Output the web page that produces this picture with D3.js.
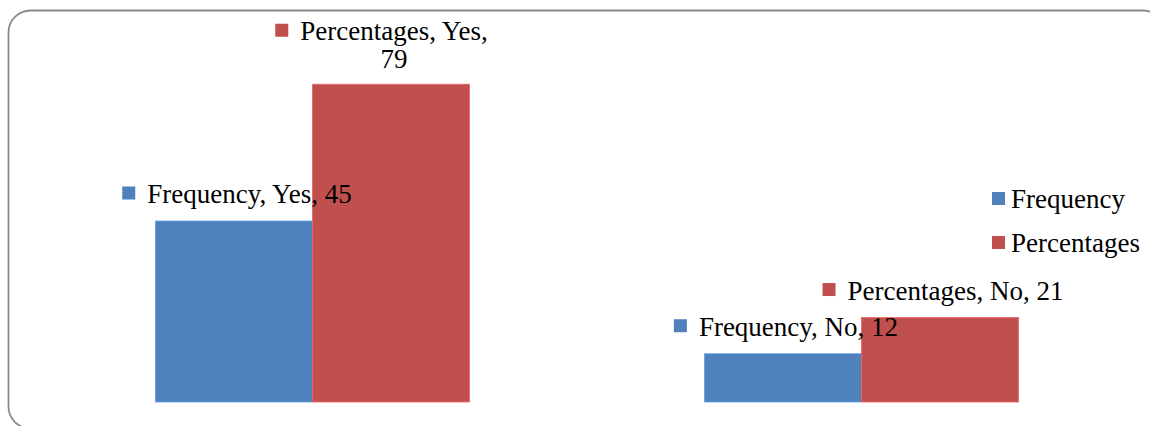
<!DOCTYPE html>
<html>
<head>
<meta charset="utf-8">
<script src="https://cdn.jsdelivr.net/npm/d3@7"></script>
<style>
  html, body { margin: 0; padding: 0; background: #fff; }
  svg { display: block; }
  text { font-family: "Liberation Serif", "Times New Roman", serif; fill: #000; }
</style>
</head>
<body>
<svg id="chart" width="1150" height="426"></svg>
<script>
// ---- data ----
const categories = ["Yes", "No"];
const seriesNames = ["Frequency", "Percentages"];
const frequencyValues = [45, 12];
const percentageValues = [79, 21];
const seriesColors = ["#4F81BD", "#C0504D"];

const W = 1150, H = 426;
const svg = d3.select("#chart");
const fontSize = 27;
const keySize = 13;
const keyGap = 12;

// frame
svg.append("rect")
  .attr("x", 8.5).attr("y", 10.5)
  .attr("width", 1156).attr("height", 418)
  .attr("rx", 22).attr("ry", 22)
  .attr("fill", "#fff")
  .attr("stroke", "#8a8a8a")
  .attr("stroke-width", 1.8);

const x0 = d3.scaleBand().domain(categories).range([38, 1136])
  .paddingInner(0.428).paddingOuter(0.214);
const x1 = d3.scaleBand().domain(seriesNames).range([0, x0.bandwidth()]);
const y = d3.scaleLinear().domain([0, 90]).range([402, 40]);

const rows = [];
categories.forEach((c, i) => {
  rows.push({ cat: c, series: seriesNames[0], value: frequencyValues[i], color: seriesColors[0] });
  rows.push({ cat: c, series: seriesNames[1], value: percentageValues[i], color: seriesColors[1] });
});

const g = svg.append("g");
g.selectAll("rect.bar").data(rows).enter().append("rect")
  .attr("class", "bar")
  .attr("x", d => x0(d.cat) + x1(d.series))
  .attr("y", d => y(d.value))
  .attr("width", x1.bandwidth())
  .attr("height", d => y(0) - y(d.value))
  .attr("fill", d => d.color)
  .attr("stroke", d => d3.color(d.color).brighter(0.6))
  .attr("stroke-width", 0.8);

// measure helper
const measurer = svg.append("text").attr("font-size", fontSize).attr("visibility", "hidden");
function textW(s) { measurer.text(s); return measurer.node().getComputedTextLength(); }

// data labels with legend keys
const labels = svg.append("g");
rows.forEach(d => {
  const cx = x0(d.cat) + x1(d.series) + x1.bandwidth() / 2;
  const top = y(d.value);
  const full = `${d.series}, ${d.cat}, ${d.value}`;
  const fw = textW(full);
  const lines = (top - 18 - fontSize < 50) ? [`${d.series}, ${d.cat},`, `${d.value}`] : [full];
  if (lines.length === 1) {
    const blockW = keySize + keyGap + fw;
    const left = cx + 3 - blockW / 2;
    const base = top - 18;
    labels.append("rect").attr("x", left).attr("y", base - 16.5)
      .attr("width", keySize).attr("height", keySize).attr("fill", d.color);
    labels.append("text").attr("x", left + keySize + keyGap).attr("y", base)
      .attr("font-size", fontSize).text(full);
  } else {
    const lh = 28;
    const base2 = top - 16;
    const base1 = base2 - lh;
    const tcx = cx + 3;
    const w1 = textW(lines[0]);
    labels.append("rect").attr("x", tcx - w1 / 2 - keyGap - keySize).attr("y", base1 - 16.5)
      .attr("width", keySize).attr("height", keySize).attr("fill", d.color);
    labels.append("text").attr("x", tcx).attr("y", base1).attr("text-anchor", "middle")
      .attr("font-size", fontSize).text(lines[0]);
    labels.append("text").attr("x", tcx).attr("y", base2).attr("text-anchor", "middle")
      .attr("font-size", fontSize).text(lines[1]);
  }
});
measurer.remove();

// legend
const legend = svg.append("g").attr("transform", "translate(992,0)");
seriesNames.forEach((s, i) => {
  const base = 208 + i * 44;
  legend.append("rect").attr("x", 0).attr("y", base - 16)
    .attr("width", keySize).attr("height", keySize).attr("fill", seriesColors[i]);
  legend.append("text").attr("x", 19).attr("y", base).attr("font-size", fontSize).text(s);
});
</script>
</body>
</html>
